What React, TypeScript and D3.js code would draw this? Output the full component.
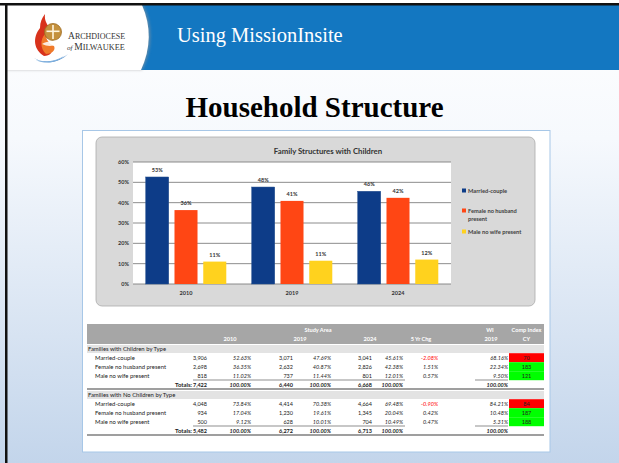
import React from 'react';
import * as d3 from 'd3';

const years = ['2010', '2019', '2024'];
const seriesNames = ['Married-couple', 'Female no husband present', 'Male no wife present'];
const marriedPct = [52.63, 47.69, 45.61];
const femalePct = [36.35, 40.87, 42.38];
const malePct = [11.02, 11.44, 12.01];
const yTicks = [0, 10, 20, 30, 40, 50, 60];
const seriesColors = ['#0D3C88', '#FF4614', '#FFD21E'];

const headerTop = ['', '', '', 'Study Area', '', '', '', 'WI', 'Comp Index'];
const headerBottom = ['', '2010', '', '2019', '', '2024', '5 Yr Chg', '2019', 'CY'];
const sectionLabels = ['Families with Children by Type', 'Families with No Children by Type'];
const withChildrenRows = [
  ['Married-couple', '3,906', '52.63%', '3,071', '47.69%', '3,041', '45.61%', '-2.08%', '68.16%', '70'],
  ['Female no husband present', '2,698', '36.35%', '2,632', '40.87%', '2,826', '42.38%', '1.51%', '22.34%', '183'],
  ['Male no wife present', '818', '11.02%', '737', '11.44%', '801', '12.01%', '0.57%', '9.50%', '121'],
];
const withChildrenTotals = ['Totals:', '7,422', '100.00%', '6,440', '100.00%', '6,668', '100.00%', '', '100.00%', ''];
const noChildrenRows = [
  ['Married-couple', '4,048', '73.84%', '4,414', '70.38%', '4,664', '69.48%', '-0.90%', '84.21%', '84'],
  ['Female no husband present', '934', '17.04%', '1,230', '19.61%', '1,345', '20.04%', '0.42%', '10.48%', '187'],
  ['Male no wife present', '500', '9.12%', '628', '10.01%', '704', '10.49%', '0.47%', '5.31%', '188'],
];
const noChildrenTotals = ['Totals:', '5,482', '100.00%', '6,272', '100.00%', '6,713', '100.00%', '', '100.00%', ''];

const SANS = 'Lato, "Open Sans", sans-serif';
const SERIF = '"Liberation Serif", "Times New Roman", serif';

function Logo() {
  return (
    <g>
      <path d="M34,58 C44,64 58,62 68,54 C60,62 46,66 34,58 Z" fill="#4C8AC9" />
      <path d="M36,60 C46,63 56,61 64,56 C58,62 46,65 36,60 Z" fill="#7FB0DE" />
      <path d="M44,56 C34,50 32,38 40,28 C40,22 42,18 45,14 C44,22 48,24 50,30 C46,36 44,42 50,48 C54,52 50,56 44,56 Z" fill="#D8321C" />
      <path d="M46,54 C40,48 40,40 45,34 C46,40 50,44 54,46 C56,50 52,54 46,54 Z" fill="#F07A2A" />
      <circle cx={53} cy={32} r={8.5} fill="#C4913D" />
      <circle cx={53} cy={32} r={8.5} fill="none" stroke="#9E6B22" strokeWidth={0.8} />
      <rect x={52.2} y={25} width={1.6} height={14} fill="#FFF6DF" />
      <rect x={46.5} y={30.5} width={13} height={1.6} fill="#FFF6DF" />
      <path d="M42,44 C48,40 56,42 62,38 C58,46 50,48 42,44 Z" fill="#FFFFFF" opacity={0.85} />
      <text x={68} y={38.5} fontFamily={SERIF} fill="#333" fontSize={8}>
        <tspan fontSize={9.5}>A</tspan>RCHDIOCESE
      </text>
      <text x={67} y={49.5} fontFamily={SERIF} fill="#333" fontSize={8.3}>
        <tspan fontStyle="italic" fontSize={7}>of </tspan><tspan fontSize={9.5}>M</tspan>ILWAUKEE
      </text>
    </g>
  );
}

function Chart() {
  const x0 = d3.scaleBand().domain(years).range([133, 451]).paddingInner(0.24).paddingOuter(0.12);
  const x1 = d3.scaleBand().domain(seriesNames).range([0, x0.bandwidth()]).paddingInner(0.2);
  const y = d3.scaleLinear().domain([0, 60]).range([284, 162]);
  const series = [marriedPct, femalePct, malePct];
  return (
    <g>
      <rect x={96} y={137} width={439} height={169} rx={6} fill="#D9D9D9" stroke="#ABABAB" strokeWidth={0.8} />
      <text x={328} y={153.5} textAnchor="middle" fontFamily={SANS} fontWeight={700} fontSize={7.8} fill="#333">
        Family Structures with Children
      </text>
      <rect x={133} y={162} width={318} height={122} fill="#FFFFFF" />
      {yTicks.map((t) => (
        <g key={t}>
          <line x1={133} x2={451} y1={y(t)} y2={y(t)} stroke="#808080" strokeWidth={0.9} />
          <text x={129} y={y(t) + 2} textAnchor="end" fontFamily={SANS} fontWeight={700} fontSize={5.5} fill="#333">
            {t}%
          </text>
        </g>
      ))}
      {years.map((yr, i) => (
        <g key={yr}>
          {seriesNames.map((s, j) => {
            const v = series[j][i];
            const bx = (x0(yr) as number) + (x1(s) as number);
            return (
              <g key={s}>
                <rect x={bx} y={y(v)} width={x1.bandwidth()} height={y(0) - y(v)} fill={seriesColors[j]} stroke={j === 0 ? '#27518F' : 'none'} strokeWidth={0.5} />
                <text x={bx + x1.bandwidth() / 2} y={y(v) - 5} textAnchor="middle" fontFamily={SANS} fontWeight={700} fontSize={5.5} fill="#333">
                  {Math.round(v)}%
                </text>
              </g>
            );
          })}
          <text x={(x0(yr) as number) + x0.bandwidth() / 2} y={295} textAnchor="middle" fontFamily={SANS} fontWeight={700} fontSize={5.5} fill="#333">
            {yr}
          </text>
        </g>
      ))}
      {seriesNames.map((s, j) => {
        const ly = [191, 211, 232][j];
        const lines = j === 1 ? ['Female no husband', 'present'] : [s];
        return (
          <g key={s}>
            <rect x={462} y={ly - 2.5} width={4} height={4} fill={seriesColors[j]} />
            {lines.map((ln, k) => (
              <text key={k} x={468} y={ly + 1.8 + k * 8} fontFamily={SANS} fontWeight={700} fontSize={5.7} fill="#404040">
                {ln}
              </text>
            ))}
          </g>
        );
      })}
    </g>
  );
}

const colX = [0, 207, 251, 293, 331, 372, 403, 438, 508];
const headerX = [0, 230, 0, 300, 0, 370, 421, 491, 526.5];
const topHeaderX = [0, 0, 0, 318, 0, 0, 0, 490, 526.5];

function Row({ cells, yb, totals }: { cells: string[]; yb: number; totals?: boolean }) {
  return (
    <g fontFamily={SANS} fontSize={5.5} fill="#222">
      <text x={totals ? 192 : 95} y={yb} textAnchor={totals ? 'end' : 'start'} fontWeight={totals ? 700 : 400} fontSize={5.9}>
        {cells[0]}
      </text>
      {cells.slice(1, 9).map((c, k) => {
        const isPct = k % 2 === 1 || k >= 6;
        const red = c.startsWith('-');
        return (
          <text key={k} x={colX[k + 1]} y={yb} textAnchor="end" fontStyle={isPct ? 'italic' : 'normal'} fontWeight={totals ? 700 : 400} fill={red ? '#FF0000' : '#222'}>
            {c}
          </text>
        );
      })}
      {cells[9] !== '' && (
        <g>
          <rect x={509} y={yb - 6.3} width={35} height={9} fill={Number(cells[9]) < 100 ? '#FF0000' : '#00FF00'} />
          <text x={526.5} y={yb} textAnchor="middle">{cells[9]}</text>
        </g>
      )}
    </g>
  );
}

function Table() {
  const sec1 = 357.5;
  const sec2 = 403.5;
  const pitch = 9;
  return (
    <g>
      <rect x={87} y={324} width={457} height={20} fill="#A6A6A6" />
      <g fontFamily={SANS} fontWeight={700} fontSize={5.6} fill="#FFFFFF">
        {headerTop.map((h, k) => h && (
          <text key={k} x={topHeaderX[k]} y={331.5} textAnchor="middle">{h}</text>
        ))}
        {headerBottom.map((h, k) => h && (
          <text key={k} x={headerX[k]} y={340.5} textAnchor="middle">{h}</text>
        ))}
      </g>
      {[0, 1].map((s) => {
        const base = s === 0 ? sec1 : sec2;
        const rows = s === 0 ? withChildrenRows : noChildrenRows;
        const totals = s === 0 ? withChildrenTotals : noChildrenTotals;
        const bandTop = base - 12.5;
        return (
          <g key={s}>
            <rect x={87} y={bandTop} width={457} height={8} fill="#E3E3E3" />
            <text x={88} y={bandTop + 6.2} fontFamily={SANS} fontSize={5.9} fill="#222">{sectionLabels[s]}</text>
            {rows.map((r, i) => (
              <Row key={i} cells={r} yb={base + 2 + i * pitch} />
            ))}
            <line x1={193} x2={405} y1={base + 3 * pitch - 4.5} y2={base + 3 * pitch - 4.5} stroke="#444" strokeWidth={0.6} />
            <line x1={475} x2={508} y1={base + 3 * pitch - 4.5} y2={base + 3 * pitch - 4.5} stroke="#444" strokeWidth={0.6} />
            <Row cells={totals} yb={base + 2 + 3 * pitch} totals />
            <line x1={87} x2={544} y1={base + 3 * pitch + 4.5} y2={base + 3 * pitch + 4.5} stroke="#7F7F7F" strokeWidth={1.3} />
          </g>
        );
      })}
    </g>
  );
}

export default function App() {
  return (
    <svg width={619} height={463} style={{ position: 'absolute', left: 0, top: 0 }}>
      <defs>
        <linearGradient id="bg" x1="0" y1="0" x2="0" y2="1">
          <stop offset="0" stopColor="#FFFFFF" />
          <stop offset="0.3" stopColor="#F6F9FD" />
          <stop offset="1" stopColor="#C3D5EB" />
        </linearGradient>
        <filter id="sh" x="-20%" y="-20%" width="140%" height="140%">
          <feGaussianBlur stdDeviation="1.5" />
        </filter>
      </defs>
      <rect x={0} y={0} width={619} height={463} fill="url(#bg)" />
      <rect x={7} y={5} width={612} height={65} fill="#1377C1" />
      <path d="M7,5 L143,5 Q158,37 142,70 L7,70 Z" fill="#9A9A9A" filter="url(#sh)" opacity={0.6} />
      <path d="M7,5 L142,5 Q156,37 141,70 L7,70 Z" fill="#FFFFFF" />
      <rect x={0} y={3} width={619} height={2.5} fill="#111" />
      <rect x={5} y={3} width={2.5} height={460} fill="#111" />
      <Logo />
      <text x={177} y={42} fontFamily={SERIF} fontSize={20.5} fill="#FFFFFF">Using MissionInsite</text>
      <text x={314.5} y={117} textAnchor="middle" fontFamily={SERIF} fontWeight={700} fontSize={29} fill="#000">
        Household Structure
      </text>
      <rect x={82.5} y={130.5} width={467.5} height={321.5} fill="#FFFFFF" stroke="#A7C7E7" strokeWidth={1} />
      <Chart />
      <Table />
    </svg>
  );
}
